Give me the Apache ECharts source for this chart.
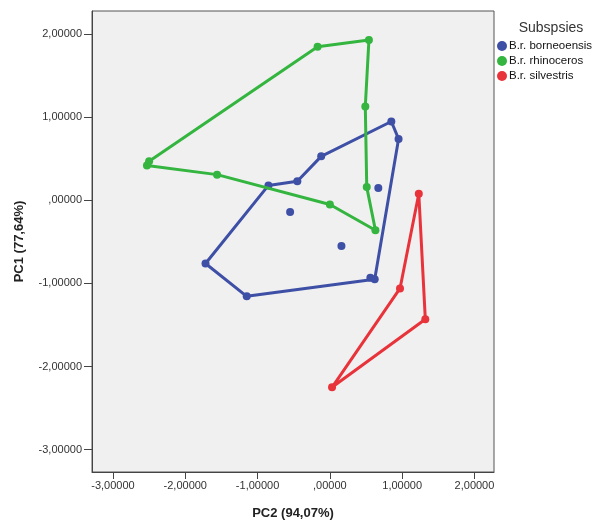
<!DOCTYPE html>
<html>
<head>
<meta charset="utf-8">
<script src="https://cdn.jsdelivr.net/npm/echarts@6/dist/echarts.min.js"></script>
<style>
  html, body { margin: 0; padding: 0; background: #fff; }
  #chart { width: 594px; height: 525px; }
</style>
</head>
<body>
<div id="chart"></div>
<script>
// group names (legend order)
const groups = ['B.r. borneoensis', 'B.r. rhinoceros', 'B.r. silvestris'];
const colors = ['#3e4fa6', '#34b53f', '#e8333b'];

// B.r. borneoensis
const borneoX = [-1.72, -1.15, 0.56, 0.62, 0.95, 0.85, -0.12, -0.45, -0.85, -0.55, 0.67, 0.16];
const borneoY = [-0.76, -1.155, -0.93, -0.95, 0.74, 0.95, 0.53, 0.23, 0.18, -0.14, 0.15, -0.55];
const borneoHull = [0, 1, 3, 4, 5, 6, 7, 8, 0];

// B.r. rhinoceros
const rhinoX = [-2.53, -2.50, -0.17, 0.54, 0.49, 0.51, 0.63, 0.00, -1.56];
const rhinoY = [0.42, 0.47, 1.85, 1.93, 1.13, 0.16, -0.36, -0.05, 0.31];
const rhinoHull = [0, 1, 2, 3, 4, 5, 6, 7, 8, 0];

// B.r. silvestris
const silvX = [1.23, 0.97, 1.32, 0.03];
const silvY = [0.08, -1.06, -1.43, -2.25];
const silvHull = [0, 2, 3, 1, 0];

const xTicks = [-3, -2, -1, 0, 1, 2];
const yTicks = [-3, -2, -1, 0, 1, 2];

const groupData = [
  [borneoX, borneoY, borneoHull],
  [rhinoX, rhinoY, rhinoHull],
  [silvX, silvY, silvHull]
];

function fmt(v) {
  // SPSS style: comma decimal, no leading zero
  let s = Math.abs(v).toFixed(5).replace('.', ',');
  if (s.charAt(0) === '0') s = s.slice(1);
  return (v < 0 ? '-' : '') + s;
}

const series = [];
groupData.forEach(([xs, ys, hull], g) => {
  // hull outline
  series.push({
    name: groups[g],
    type: 'line',
    data: hull.map(i => [xs[i], ys[i]]),
    symbol: 'none',
    lineStyle: { color: colors[g], width: 3 },
    itemStyle: { color: colors[g] },
    z: 2 + g
  });
  // all points
  series.push({
    name: groups[g],
    type: 'scatter',
    data: xs.map((x, i) => [x, ys[i]]),
    symbol: 'circle',
    symbolSize: 8,
    itemStyle: { color: colors[g], opacity: 1 },
    z: 2 + g
  });
});

const chart = echarts.init(document.getElementById('chart'));
chart.setOption({
  animation: false,
  title: {
    text: 'Subspsies',
    left: 546,
    top: 16,
    textAlign: 'center',
    textStyle: { fontFamily: 'Liberation Sans', fontSize: 14, fontWeight: 'normal', color: '#333' }
  },
  legend: {
    data: groups,
    orient: 'vertical',
    left: 497,
    top: 40,
    icon: 'circle',
    itemWidth: 10,
    itemHeight: 10,
    itemGap: 3,
    padding: 0,
    textStyle: { fontFamily: 'Liberation Sans', fontSize: 11.5, lineHeight: 12, color: '#111', padding: [0, 0, 0, -3] }
  },
  grid: {
    left: 92, top: 11, right: 100, bottom: 51,
    show: true,
    backgroundColor: '#f0f0f0',
    borderColor: '#555',
    borderWidth: 1
  },
  xAxis: {
    type: 'value',
    min: -3.29, max: 2.27,
    name: 'PC2 (94,07%)',
    nameLocation: 'middle',
    nameGap: 35,
    nameTextStyle: { fontFamily: 'Liberation Sans', fontSize: 13, fontWeight: 'bold', color: '#222' },
    splitLine: { show: false },
    axisLine: { onZero: false, lineStyle: { color: '#444' } },
    axisTick: { customValues: xTicks, length: 7, lineStyle: { color: '#444' } },
    axisLabel: {
      customValues: xTicks, formatter: fmt, margin: 8,
      fontFamily: 'Liberation Sans', fontSize: 11, color: '#333'
    }
  },
  yAxis: {
    type: 'value',
    min: -3.27, max: 2.28,
    name: 'PC1 (77,64%)',
    nameLocation: 'middle',
    nameGap: 66,
    nameTextStyle: { fontFamily: 'Liberation Sans', fontSize: 13, fontWeight: 'bold', color: '#222' },
    splitLine: { show: false },
    axisLine: { show: true, onZero: false, lineStyle: { color: '#444' } },
    axisTick: { show: true, customValues: yTicks, length: 8, lineStyle: { color: '#444' } },
    axisLabel: {
      customValues: yTicks, formatter: fmt, margin: 10,
      fontFamily: 'Liberation Sans', fontSize: 11, color: '#333'
    }
  },
  series: series
});
</script>
</body>
</html>
